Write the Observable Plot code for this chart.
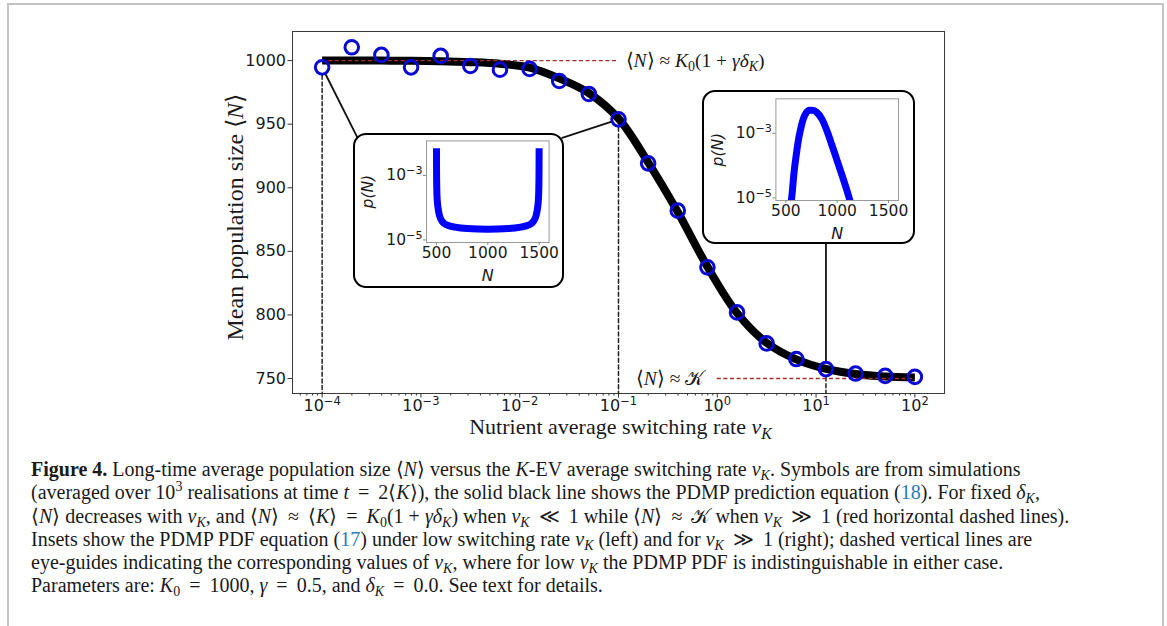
<!DOCTYPE html>
<html><head><meta charset="utf-8">
<script src="https://cdn.jsdelivr.net/npm/d3@7"></script>
<script src="https://cdn.jsdelivr.net/npm/@observablehq/plot@0.6"></script>
<style>
body{margin:0;background:#fff;width:1167px;height:626px;overflow:hidden;position:relative;font-family:"DejaVu Sans";}
#border{position:absolute;left:7px;top:3px;width:1157px;height:700px;border:2px solid #c4c4c4;box-sizing:border-box;}
#main{position:absolute;left:0;top:0;width:1167px;height:445px;}
.inset{position:absolute;border:2.5px solid #000;border-radius:13px;background:#fff;box-sizing:border-box;}
.inset svg{position:absolute;left:-2.5px;top:-2.5px;}
#caption{position:absolute;left:31px;top:458px;font-family:"Liberation Serif";font-size:20px;line-height:23.3px;white-space:nowrap;color:#1a1a1a;}
#caption sub,#caption sup{font-size:70%;line-height:0;}
#caption sub{vertical-align:-0.25em;}
#caption sup{vertical-align:0.55em;}
#caption .ref{color:#2a7ab8;}
#caption .op{margin:0 0.2em;}
</style></head><body>
<div id="border"></div>
<div id="main"></div>
<div id="insetL" class="inset"></div>
<div id="insetR" class="inset"></div>
<div id="caption">
<div><b>Figure 4.</b> Long-time average population size ⟨<i>N</i>⟩ versus the <i>K</i>-EV average switching rate <i>ν</i><sub><i>K</i></sub>. Symbols are from simulations</div>
<div>(averaged over 10<sup>3</sup> realisations at time <i>t</i> <span class="op">=</span> 2⟨<i>K</i>⟩), the solid black line shows the PDMP prediction equation (<span class="ref">18</span>). For fixed <i>δ</i><sub><i>K</i></sub>,</div>
<div>⟨<i>N</i>⟩ decreases with <i>ν</i><sub><i>K</i></sub>, and ⟨<i>N</i>⟩ <span class="op">≈</span> ⟨<i>K</i>⟩ <span class="op">=</span> <i>K</i><sub>0</sub>(1 + <i>γδ</i><sub><i>K</i></sub>) when <i>ν</i><sub><i>K</i></sub> <span class="op">≪</span> 1 while ⟨<i>N</i>⟩ <span class="op">≈</span> 𝒦 when <i>ν</i><sub><i>K</i></sub> <span class="op">≫</span> 1 (red horizontal dashed lines).</div>
<div>Insets show the PDMP PDF equation (<span class="ref">17</span>) under low switching rate <i>ν</i><sub><i>K</i></sub> (left) and for <i>ν</i><sub><i>K</i></sub> <span class="op">≫</span> 1 (right); dashed vertical lines are</div>
<div>eye-guides indicating the corresponding values of <i>ν</i><sub><i>K</i></sub>, where for low <i>ν</i><sub><i>K</i></sub> the PDMP PDF is indistinguishable in either case.</div>
<div>Parameters are: <i>K</i><sub>0</sub> <span class="op">=</span> 1000, <i>γ</i> <span class="op">=</span> 0.5, and <i>δ</i><sub><i>K</i></sub> <span class="op">=</span> 0.0. See text for details.</div>
</div>
<script>
// ---------------- data ----------------
// switching rates of the simulation points (log-spaced)
const nu = [1e-4, 1.995e-4, 3.981e-4, 7.943e-4, 1.585e-3, 3.162e-3, 6.310e-3, 1.259e-2, 2.512e-2, 5.012e-2,
            0.1, 0.1995, 0.3981, 0.7943, 1.585, 3.162, 6.310, 12.59, 25.12, 50.12, 100];
// simulated mean population size (circles)
const simN = [994.7, 1010.5, 1004.5, 994.7, 1003.7, 995.8, 992.9, 993.5, 984.0, 973.8,
              953.8, 919.2, 882.0, 837.4, 802.0, 777.6, 765.3, 757.4, 753.9, 752.1, 751.3];
// PDMP prediction (black line)
const theoryN = [1000, 1000, 1000, 999.8, 999.5, 998.8, 997.5, 994.5, 986, 974.5,
                 954.5, 920, 881, 838, 801.5, 778, 765, 757.5, 753.5, 751.5, 750.8];
// reference levels (red dashed): value, x-start, x-end
const refLevel = [1000, 750];
const refFrom = [1e-4, 1];
const refTo = [0.1, 100];
const refLabel = ["⟨*N*⟩ ≈ *K*_{0}(1 + *γδ*_{*K*})", "⟨*N*⟩ ≈ 𝒦"];
// indices of guided points (0: left inset, 10: left inset, 17: right inset)
const guideIdx = [0, 10, 17];
// axis ticks
const xMajor = [1e-4, 1e-3, 1e-2, 1e-1, 1, 10, 100];
const xMinor = [];
for (const d of [1e-5,1e-4,1e-3,1e-2,1e-1,1,10,100]) for (const m of [2,3,4,5,6,7,8,9]) xMinor.push(d*m);
const yTicks = [750, 800, 850, 900, 950, 1000];

// left inset PDF (low switching rate)
const pdfL_N = [500, 501, 503, 507, 515, 530, 560, 600, 680, 800, 1000, 1200, 1320, 1400, 1440, 1470, 1485, 1493, 1497, 1499, 1500];
const pdfL_p = [6.9e-3, 1.26e-3, 4.0e-4, 1.8e-4, 1.0e-4, 5.6e-5, 3.6e-5, 2.9e-5, 2.5e-5, 2.25e-5, 2.15e-5,
                2.25e-5, 2.5e-5, 2.9e-5, 3.6e-5, 5.6e-5, 1.0e-4, 1.8e-4, 4.0e-4, 1.26e-3, 6.9e-3];
// right inset PDF (fast switching)
const pdfR_N = [540, 560, 580, 600, 620, 645, 670, 700, 730, 760, 800, 850, 900, 950, 1000, 1050, 1100, 1140];
const pdfR_p = [4.0e-6, 1.26e-5, 6.3e-5, 2.0e-4, 5.6e-4, 1.41e-3, 2.8e-3, 4.4e-3, 5.2e-3, 5.2e-3, 4.5e-3,
                2.8e-3, 1.2e-3, 4.2e-4, 1.41e-4, 4.7e-5, 1.5e-5, 5.6e-6];
const insetXTicks = [500, 1000, 1500];
const insetYTicks = [1e-5, 1e-3];

// ---------------- layout ----------------
const W = 1167, H = 445;
const FX0 = 292, FX1 = 944, FY0 = 31, FY1 = 393;
const xDomain = [Math.pow(10, -4.3), Math.pow(10, 2.3)];
const yDomain = [738.2, 1022.9];
const boxL = {x0: 352.7, y0: 133.3, x1: 564.3, y1: 288.3, fx0: 426.7, fy0: 140.7, fx1: 549.3, fy1: 242.3};
const boxR = {x0: 702.3, y0: 90, x1: 915, y1: 244, fx0: 775.7, fy0: 98.3, fx1: 898.3, fy1: 200};

const SERIF = "Liberation Serif";
const SANS = "DejaVu Sans";

function parse(s){
  const segs=[]; let buf="", ital=false, shift=null;
  const push=()=>{ if(buf){ segs.push({text:buf, ital, shift}); buf=""; } };
  for (let i=0;i<s.length;){
    const c=s[i];
    if (c==="*"){ push(); ital=!ital; i++; }
    else if ((c==="^"||c==="_") && s[i+1]==="{"){ push(); shift=c; i+=2; }
    else if (c==="}" && shift){ push(); shift=null; i++; }
    else { buf+=c; i++; }
  }
  push(); return segs;
}
function richify(svg){
  svg.querySelectorAll("text").forEach(t=>{
    if (t.querySelector("tspan")) return;
    const s = t.textContent;
    if (!/[\^_*]/.test(s)) return;
    t.textContent = "";
    for (const g of parse(s)){
      const ts = document.createElementNS("http://www.w3.org/2000/svg","tspan");
      ts.textContent = g.text;
      if (g.ital) ts.setAttribute("font-style","italic");
      if (g.shift==="^"){ ts.setAttribute("font-size","72%"); ts.setAttribute("baseline-shift","0.55em"); }
      if (g.shift==="_"){ ts.setAttribute("font-size","72%"); ts.setAttribute("baseline-shift","-0.3em"); }
      t.appendChild(ts);
    }
  });
}
const expFmt = d => { const e = Math.round(Math.log10(d)); return `10^{${e<0?"−"+(-e):e}}`; };
const plainFmt = d => String(d);

// scales used to locate inset box corners in data space
const xs = Plot.scale({x: {type: "log", domain: xDomain, range: [FX0, FX1]}});
const ys = Plot.scale({y: {type: "linear", domain: yDomain, range: [FY1, FY0]}});

const sim = nu.map((x,i)=>({x, y: simN[i]}));
const theory = nu.map((x,i)=>({x, y: theoryN[i]}));
const refs = refLevel.map((y,i)=>({y, x1: refFrom[i], x2: refTo[i], label: refLabel[i]}));
const guides = guideIdx.map(i=>({x: nu[i], y: simN[i]}));
const connectors = [
  {x1: nu[guideIdx[0]], y1: simN[guideIdx[0]], x2: xs.invert(boxL.x0+4), y2: ys.invert(boxL.y0+3.4)},
  {x1: nu[guideIdx[1]], y1: simN[guideIdx[1]], x2: xs.invert(boxL.x1-2.6), y2: ys.invert(boxL.y0+4)}
];
const connectorR = [{x1: nu[guideIdx[2]], y1: ys.invert(boxR.y1), x2: nu[guideIdx[2]], y2: simN[guideIdx[2]]}];

const main = Plot.plot({
  width: W, height: H,
  marginLeft: FX0, marginRight: W-FX1, marginTop: FY0, marginBottom: H-FY1,
  style: {background: "transparent", maxWidth: "none", overflow: "visible", fontFamily: SANS},
  x: {type: "log", domain: xDomain},
  y: {domain: yDomain},
  marks: [
    Plot.frame({stroke: "#3a3a3a", strokeWidth: 1}),
    Plot.axisX({ticks: xMinor.filter(v=>v>xDomain[0]&&v<xDomain[1]), tickSize: 2.5, tickFormat: () => "", label: null, stroke: "#333"}),
    Plot.axisX({ticks: xMajor, tickSize: 4.5, tickPadding: 1.5, tickFormat: expFmt, label: null, fontSize: 16, fill: "#1a1a1a", stroke: "#333"}),
    Plot.axisY({ticks: yTicks, tickSize: 4.5, tickPadding: 2, tickFormat: plainFmt, label: null, fontSize: 16, fill: "#1a1a1a", stroke: "#333"}),
    Plot.arrow(guides, {x1: "x", y1: "y", x2: "x", y2: () => yDomain[0], headLength: 0, insetStart: 8,
      stroke: "#222", strokeWidth: 1.5, strokeDasharray: "4,2.6"}),
    Plot.arrow(connectors, {x1: "x1", y1: "y1", x2: "x2", y2: "y2", headLength: 0, insetStart: 8, stroke: "#111", strokeWidth: 1.8}),
    Plot.arrow(connectorR, {x1: "x1", y1: "y1", x2: "x2", y2: "y2", headLength: 0, insetEnd: 8, stroke: "#111", strokeWidth: 1.8}),
    Plot.line(theory, {x: "x", y: "y", stroke: "#000", strokeWidth: 8, curve: "catmull-rom", strokeLinecap: "butt"}),
    Plot.ruleY(refs, {y: "y", x1: "x1", x2: "x2", stroke: "#a2302c", strokeWidth: 1.4, strokeDasharray: "4,2.6"}),
    Plot.dot(sim, {x: "x", y: "y", r: 6.8, stroke: "#0a0ad2", strokeWidth: 3, fill: "none"}),
    Plot.text(refs.slice(0,1), {x: "x2", y: "y", text: "label", textAnchor: "start", dx: 7, fontFamily: SERIF, fontSize: 19.5, fill: "#1a1a1a"}),
    Plot.text(refs.slice(1), {x: "x1", y: "y", text: "label", textAnchor: "end", dx: -13, fontFamily: SERIF, fontSize: 19.5, fill: "#1a1a1a"}),
    Plot.text(["Nutrient average switching rate *ν*_{*K*}"], {text: d=>d, frameAnchor: "bottom", textAnchor: "middle", lineAnchor: "middle", dx: 2, dy: 33, fontFamily: SERIF, fontSize: 22, fill: "#1a1a1a"}),
    Plot.text(["Mean population size ⟨*N*⟩"], {text: d=>d, frameAnchor: "left", textAnchor: "middle", lineAnchor: "middle", rotate: -90, dx: -57, dy: 4.7, fontFamily: SERIF, fontSize: 24, fill: "#1a1a1a"})
  ]
});
richify(main);
document.getElementById("main").appendChild(main);

function inset(id, box, Ns, ps){
  const el = document.getElementById(id);
  const bw = box.x1-box.x0, bh = box.y1-box.y0;
  Object.assign(el.style, {left: box.x0+"px", top: box.y0+"px", width: bw+"px", height: bh+"px"});
  const data = Ns.map((N,i)=>({N, p: ps[i]}));
  const svg = Plot.plot({
    width: bw, height: bh,
    marginLeft: box.fx0-box.x0, marginRight: box.x1-box.fx1, marginTop: box.fy0-box.y0, marginBottom: box.y1-box.fy1,
    style: {background: "transparent", maxWidth: "none", overflow: "visible", fontFamily: SANS},
    x: {domain: [403, 1597]},
    y: {type: "log", domain: [Math.pow(10,-5.08), Math.pow(10,-1.93)]},
    marks: [
      Plot.line(data, {x: "N", y: "p", stroke: "#0000ff", strokeWidth: 7, strokeLinecap: "butt", curve: "monotone-x", clip: true}),
      Plot.frame({stroke: "#9a9a9a", strokeWidth: 1}),
      Plot.axisX({ticks: insetXTicks, tickSize: 3, tickPadding: 1.5, tickFormat: plainFmt, label: null, fontSize: 15.5, fill: "#1a1a1a", stroke: "#888"}),
      Plot.axisY({ticks: insetYTicks, tickSize: 3, tickPadding: 1, tickFormat: expFmt, label: null, fontSize: 15.5, fill: "#1a1a1a", stroke: "#888"}),
      Plot.text(["p(N)"], {text: d=>d, frameAnchor: "left", textAnchor: "middle", lineAnchor: "middle", rotate: -90, dx: -58, fontSize: 15.5, fontStyle: "italic", fill: "#1a1a1a"}),
      Plot.text(["N"], {text: d=>d, frameAnchor: "bottom", textAnchor: "middle", lineAnchor: "middle", dy: 33.5, fontSize: 16, fontStyle: "italic", fill: "#1a1a1a"})
    ]
  });
  richify(svg);
  el.appendChild(svg);
}
inset("insetL", boxL, pdfL_N, pdfL_p);
inset("insetR", boxR, pdfR_N, pdfR_p);
</script>
</body></html>
